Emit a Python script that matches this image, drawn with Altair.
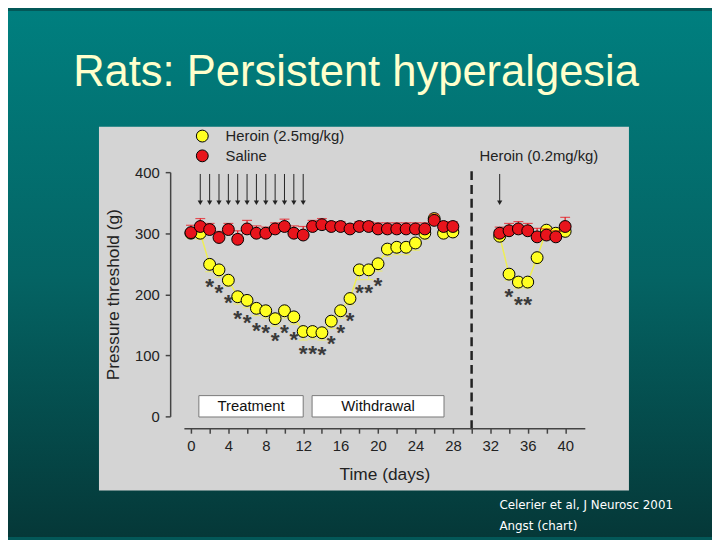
import altair as alt
import pandas as pd

# ---------------- data ----------------
days_a = list(range(0, 29))
days_b = list(range(33, 41))

saline_a = [301, 311, 306, 293, 306, 290, 307, 300, 300, 307, 311, 300, 297, 311, 314,
            311, 311, 307, 311, 311, 307, 307, 307, 307, 307, 307, 321, 311, 311]
saline_sem_a = [12, 13, 10, 10, 10, 14, 14, 12, 10, 10, 12, 12, 14, 10, 10,
                8, 8, 8, 8, 8, 10, 10, 10, 10, 10, 10, 10, 8, 8]
heroin_a = [300, 300, 249, 240, 223, 196, 190, 177, 173, 160, 173, 163, 139, 139, 137,
            156, 173, 193, 240, 240, 250, 274, 277, 277, 284, 300, 324, 300, 302]
heroin_sem_a = [8, 10, 12, 12, 10, 12, 12, 12, 12, 12, 12, 12, 14, 12, 12,
                12, 12, 10, 16, 16, 12, 12, 12, 12, 12, 10, 8, 8, 8]

saline_b = [300, 304, 307, 304, 294, 297, 294, 311]
saline_sem_b = [10, 12, 12, 12, 14, 10, 10, 15]
heroin_b = [295, 233, 220, 220, 260, 305, 300, 303]
heroin_sem_b = [8, 10, 10, 10, 10, 10, 8, 8]

series_names = ["Heroin (2.5mg/kg)", "Saline"]
series_colors = ["#FFFF22", "#E8141C"]

arrow_days = [1, 2, 3, 4, 5, 6, 7, 8, 9, 10, 11, 12, 33]
star_days = list(range(2, 21)) + [34, 35, 36]

box_labels = ["Treatment", "Withdrawal"]
box_start = [0.85, 12.95]
box_end = [12.0, 27.05]

x_ticks = list(range(0, 41, 2))
y_ticks = [0, 100, 200, 300, 400]

# ---------------- tables ----------------
rows = []
for name, days, vals, sems, seg in [
    ("Heroin (2.5mg/kg)", days_a, heroin_a, heroin_sem_a, "a"),
    ("Heroin (2.5mg/kg)", days_b, heroin_b, heroin_sem_b, "b"),
    ("Saline", days_a, saline_a, saline_sem_a, "a"),
    ("Saline", days_b, saline_b, saline_sem_b, "b"),
]:
    for d, v, s in zip(days, vals, sems):
        rows.append({"day": d, "value": v, "sem": s, "series": name, "seg": seg})
df = pd.DataFrame(rows)
df["lo"] = df["value"] - df["sem"]
df["hi"] = df["value"] + df["sem"]
her = df[df.series == "Heroin (2.5mg/kg)"]
sal = df[df.series == "Saline"]
stars = her[her.day.isin(star_days)]
arrows = pd.DataFrame({"day": arrow_days})
boxes = pd.DataFrame({"label": box_labels, "start": box_start, "end": box_end})
boxes["mid"] = (boxes["start"] + boxes["end"]) / 2
one = pd.DataFrame({"k": [0]})

# ---------------- scales / axes ----------------
F = "Liberation Sans"
PX_DAY = 9.4625
X0 = 93.0
x_dom = [-0.75, 42.1]
xs = alt.Scale(domain=x_dom, range=[X0 + d * PX_DAY for d in x_dom], nice=False, zero=False)
ys = alt.Scale(domain=[0, 400], range=[293, 46], nice=False, zero=False)

xaxis = alt.Axis(values=x_ticks, labelExpr="datum.value % 4 === 0 ? datum.label : ''",
                 offset=-63, tickSize=5, labelPadding=6, title="Time (days)",
                 titlePadding=12, zindex=1, grid=False)
yaxis = alt.Axis(values=y_ticks, offset=-72, tickSize=5, labelPadding=6,
                 title="Pressure threshold (g)", titlePadding=12, zindex=1, grid=False)


def X(f):
    return alt.X(f"{f}:Q", scale=xs, axis=xaxis)


def Y(f):
    return alt.Y(f"{f}:Q", scale=ys, axis=yaxis)


cscale = alt.Scale(domain=series_names, range=series_colors)
legend = alt.Legend(title=None, orient="none", legendX=97, legendY=2, symbolSize=144,
                    symbolType="circle", symbolStrokeColor="black", symbolStrokeWidth=1,
                    labelFontSize=15, labelFont=F, labelColor="#222", labelOffset=16,
                    rowPadding=3, padding=0, symbolOpacity=1)

# ---------------- layers ----------------
bg = alt.Chart(one).mark_rect(
    fill=alt.Gradient(gradient="linear", x1=0, x2=0, y1=0, y2=1,
                      stops=[alt.GradientStop(color="#007F7F", offset=0),
                             alt.GradientStop(color="#046464", offset=0.5),
                             alt.GradientStop(color="#053838", offset=1)])
).encode(x=alt.value(-92), x2=alt.value(620), y=alt.value(-117), y2=alt.value(415))

panel = alt.Chart(one).mark_rect(fill="#D4D4D4").encode(
    x=alt.value(0), x2=alt.value(536), y=alt.value(0), y2=alt.value(368))

title = alt.Chart(one).mark_text(text="Rats: Persistent hyperalgesia", font=F, fontSize=44,
                                 color="#FFFFCC", align="center", baseline="alphabetic").encode(
    x=alt.value(260), y=alt.value(-41))
cite1 = alt.Chart(one).mark_text(text="Celerier et al, J Neurosc 2001", font="DejaVu Sans",
                                 fontSize=12, color="white", align="left", baseline="middle").encode(
    x=alt.value(405), y=alt.value(383))
cite2 = alt.Chart(one).mark_text(text="Angst (chart)", font="DejaVu Sans",
                                 fontSize=12, color="white", align="left", baseline="middle").encode(
    x=alt.value(405), y=alt.value(404))

box_rect = alt.Chart(boxes).mark_rect(fill="white", stroke="#777", strokeWidth=1).encode(
    x=X("start"), x2="end", y=Y("lo0"), y2="hi0").transform_calculate(lo0="-1", hi0="34")
box_text = alt.Chart(boxes).mark_text(font=F, fontSize=15, color="#111", baseline="middle").encode(
    x=X("mid"), y=Y("c"), text="label:N").transform_calculate(c="17")

dash = alt.Chart(one).mark_rule(color="#222", strokeWidth=2.5, strokeDash=[9, 5]).encode(
    x=X("d"), y=Y("y0"), y2="y1").transform_calculate(d="30", y0="-21", y1="402")

arrow_shaft = alt.Chart(arrows).mark_rule(color="#222", strokeWidth=1).encode(
    x=X("day"), y=Y("top"), y2="bot").transform_calculate(top="397", bot="350")
arrow_head = alt.Chart(arrows).mark_point(shape="triangle-down", filled=True, size=28,
                                          color="#222", opacity=1).encode(
    x=X("day"), y=Y("h")).transform_calculate(h="350")
note = alt.Chart(one).mark_text(text="Heroin (0.2mg/kg)", font=F, fontSize=15, color="#222",
                                align="left", baseline="middle").encode(
    x=X("d"), y=Y("v")).transform_calculate(d="30.85", v="426")

h_line = alt.Chart(her).mark_line(color="#EEEE55", strokeWidth=1.5).encode(
    x=X("day"), y=Y("value"), detail="seg:N")
h_err = alt.Chart(her).mark_rule(color="#EEEE55", strokeWidth=1.2).encode(
    x=X("day"), y=Y("lo"), y2="value")
h_cap = alt.Chart(her).mark_tick(orient="horizontal", size=9, thickness=1.2, color="#EEEE55").encode(
    x=X("day"), y=Y("lo"))
h_pts = alt.Chart(her).mark_point(filled=True, shape="circle", size=144, stroke="black",
                                  strokeWidth=1, opacity=1).encode(
    x=X("day"), y=Y("value"), color=alt.Color("series:N", scale=cscale, legend=legend))

s_err = alt.Chart(sal).mark_rule(color="#E8141C", strokeWidth=1.2).encode(
    x=X("day"), y=Y("value"), y2="hi")
s_cap = alt.Chart(sal).mark_tick(orient="horizontal", size=10, thickness=1.2, color="#E8141C").encode(
    x=X("day"), y=Y("hi"))
s_line = alt.Chart(sal).mark_line(color="#C01010", strokeWidth=1).encode(
    x=X("day"), y=Y("value"), detail="seg:N")
s_pts = alt.Chart(sal).mark_point(filled=True, shape="circle", size=144, stroke="black",
                                  strokeWidth=1, opacity=1).encode(
    x=X("day"), y=Y("value"), color=alt.Color("series:N", scale=cscale, legend=legend))

star = alt.Chart(stars).mark_text(text="*", font=F, fontSize=23, fontWeight="bold",
                                  color="#3A3A3A", baseline="alphabetic", dy=30).encode(
    x=X("day"), y=Y("value"))

chart = alt.layer(
    bg, panel, title, cite1, cite2, box_rect, box_text, dash, arrow_shaft, arrow_head, note,
    h_line, h_err, h_cap, h_pts, s_err, s_cap, s_line, s_pts, star
).properties(
    width=536, height=368,
    autosize=alt.AutoSizeParams(type="none"),
    padding={"left": 92, "top": 117, "right": 84, "bottom": 47},
    background="#035858",
).configure_view(strokeWidth=0).configure_axis(
    labelFont=F, titleFont=F, labelFontSize=15, titleFontSize=17.5, titleFontWeight="normal",
    labelColor="#222", titleColor="#222", domainColor="#444", tickColor="#444",
    domainWidth=1.5, tickWidth=1.5,
)

chart.save("out.html", embed_options={"renderer": "svg", "actions": False})
